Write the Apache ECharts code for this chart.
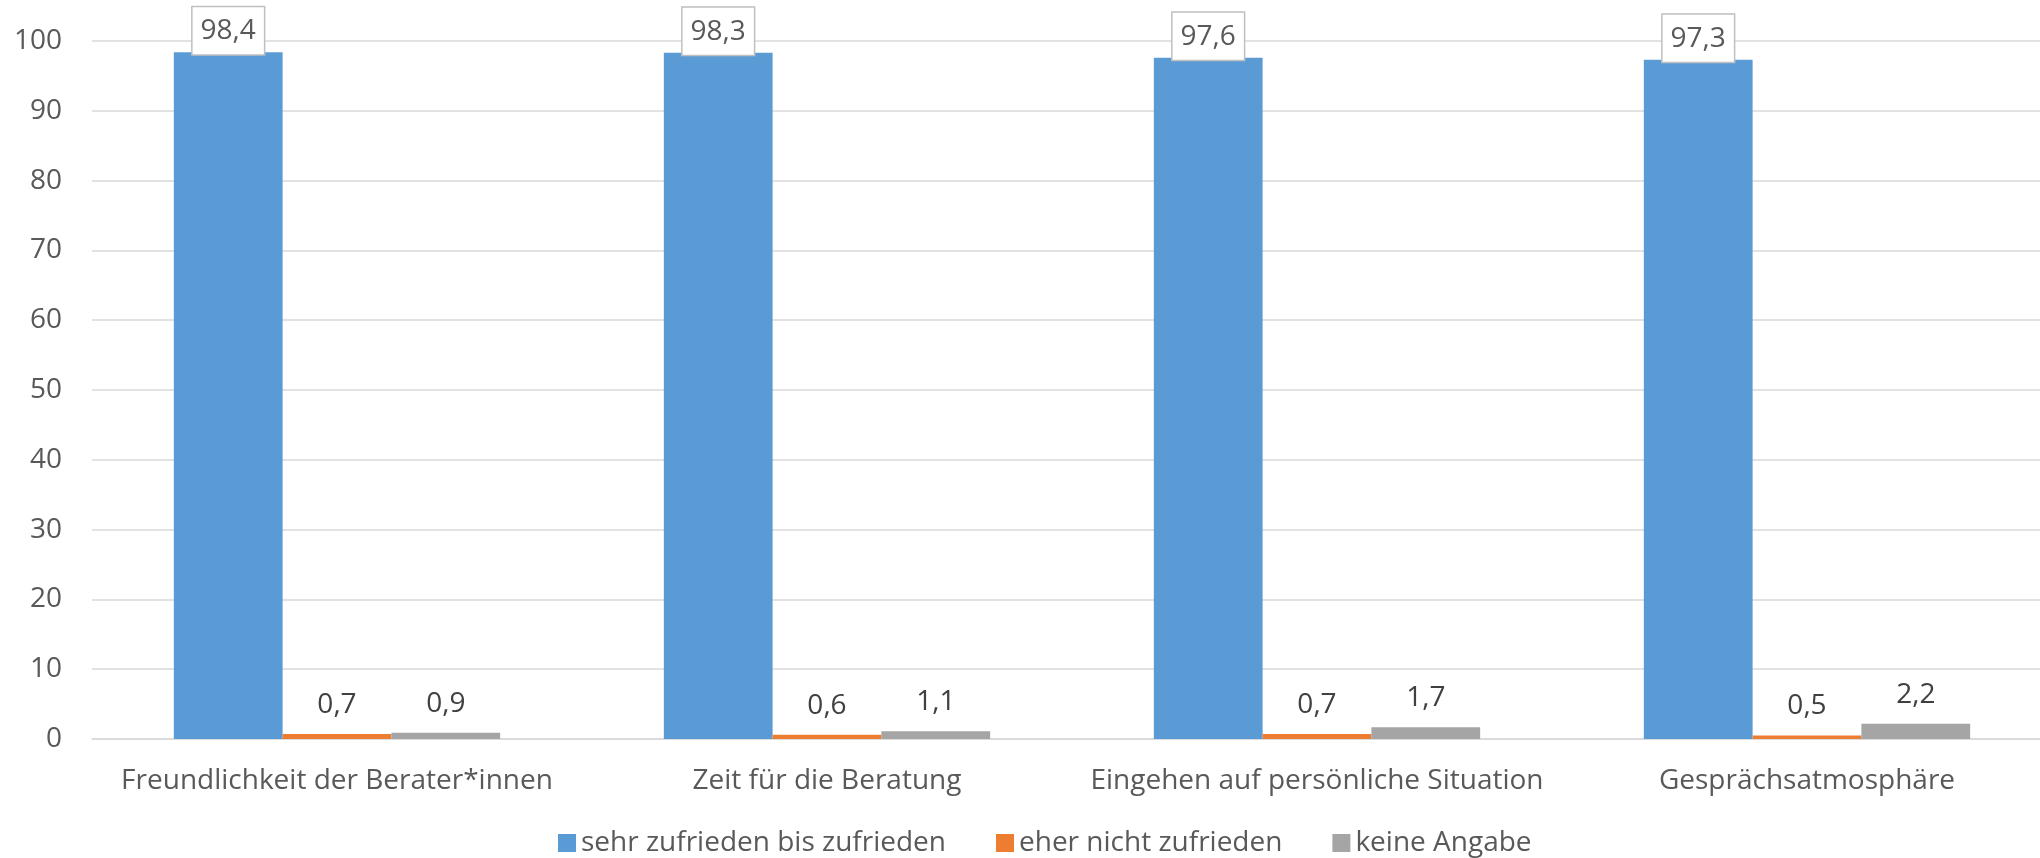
<!DOCTYPE html>
<html>
<head>
<meta charset="utf-8">
<script src="https://cdn.jsdelivr.net/npm/echarts@6/dist/echarts.min.js"></script>
<style>
html,body{margin:0;padding:0;background:#fff;}
#chart{width:2040px;height:858px;}
</style>
</head>
<body>
<div id="chart"></div>
<script>
const categories = ["Freundlichkeit der Berater*innen", "Zeit für die Beratung", "Eingehen auf persönliche Situation", "Gesprächsatmosphäre"];
const seriesNames = ["sehr zufrieden bis zufrieden", "eher nicht zufrieden", "keine Angabe"];
const sehrZufrieden = [98.4, 98.3, 97.6, 97.3];
const eherNichtZufrieden = [0.7, 0.6, 0.7, 0.5];
const keineAngabe = [0.9, 1.1, 1.7, 2.2];
const colors = ["#5B9BD5", "#ED7D31", "#A5A5A5"];

const FONT = "'Open Sans', 'Noto Sans', sans-serif";
const fmt = p => String(p.value).replace('.', ',');

const chart = echarts.init(document.getElementById('chart'), null, {renderer: 'canvas'});

const plainLabel = {
  show: true, position: 'top', distance: 15,
  fontFamily: FONT, fontSize: 28, color: '#404040', formatter: fmt
};

chart.setOption({
  animation: false,
  backgroundColor: '#ffffff',
  color: colors,
  grid: {left: 92, top: 41, width: 1960, height: 698, containLabel: false, outerBoundsMode: 'none'},
  legend: {
    data: seriesNames,
    left: 553, top: 823,
    icon: 'rect', itemWidth: 18, itemHeight: 18, itemGap: 50,
    textStyle: {fontFamily: FONT, fontSize: 28, color: '#595959', lineHeight: 30}
  },
  xAxis: {
    type: 'category',
    data: categories,
    axisLine: {show: true, lineStyle: {color: '#D9D9D9', width: 1.5}},
    axisTick: {show: false},
    axisLabel: {fontFamily: FONT, fontSize: 28, color: '#595959', margin: 28, interval: 0}
  },
  yAxis: {
    type: 'value', min: 0, max: 100, interval: 10,
    axisLine: {show: false}, axisTick: {show: false},
    splitLine: {lineStyle: {color: '#D9D9D9', width: 1.5}},
    axisLabel: {fontFamily: FONT, fontSize: 28, color: '#595959', margin: 30}
  },
  series: [
    {
      name: seriesNames[0], type: 'bar', data: sehrZufrieden,
      barWidth: '22.2%', barGap: '0%',
      label: {
        show: true, position: 'top', distance: -2,
        fontFamily: FONT, fontSize: 28, color: '#595959', formatter: fmt,
        backgroundColor: '#ffffff', borderColor: '#BFBFBF', borderWidth: 1.5,
        padding: [8, 8, 7, 8], lineHeight: 32
      }
    },
    {name: seriesNames[1], type: 'bar', data: eherNichtZufrieden, barWidth: '22.2%', barGap: '0%', label: plainLabel},
    {name: seriesNames[2], type: 'bar', data: keineAngabe, barWidth: '22.2%', barGap: '0%', label: plainLabel}
  ]
});
</script>
</body>
</html>
